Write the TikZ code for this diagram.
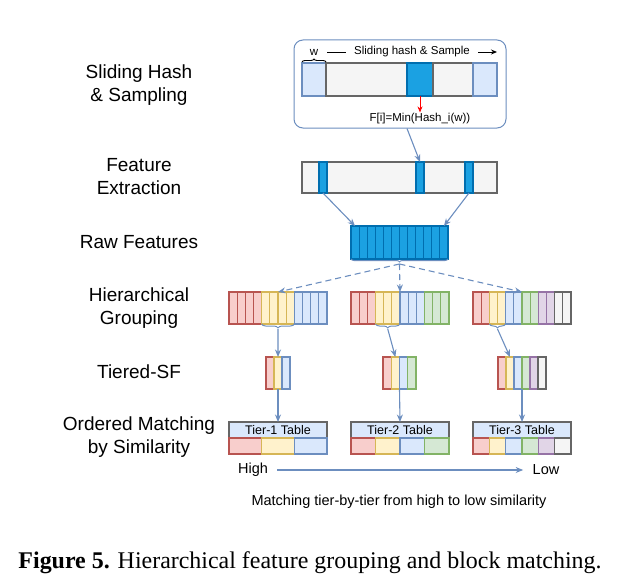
\documentclass[tikz,border=0pt]{standalone}
\usepackage{fontspec}
\setsansfont{Liberation Sans}
\newfontfamily\capfont{Liberation Serif}
\usepackage{xcolor}
\usepackage{graphicx}
\usepackage{tikz}
\usetikzlibrary{arrows.meta,calc,decorations.pathreplacing}

\definecolor{redF}{HTML}{F8CECC}
\definecolor{redL}{HTML}{B85450}
\definecolor{yelF}{HTML}{FFF2CC}
\definecolor{yelL}{HTML}{D6B656}
\definecolor{bluF}{HTML}{DAE8FC}
\definecolor{bluL}{HTML}{6C8EBF}
\definecolor{grnF}{HTML}{D5E8D4}
\definecolor{grnL}{HTML}{82B366}
\definecolor{purF}{HTML}{E1D5E7}
\definecolor{purL}{HTML}{9673A6}
\definecolor{gryF}{HTML}{F5F5F5}
\definecolor{gryL}{HTML}{666666}
\definecolor{dkbF}{HTML}{1BA1E2}
\definecolor{dkbL}{HTML}{006EAF}

\tikzset{
  cell/.style={draw, line width=1.1pt, inner sep=0pt, outer sep=0pt, minimum height=32pt},
  steplabel/.style={font=\sffamily\fontsize{19}{23}\selectfont, align=center},
  small/.style={font=\sffamily\fontsize{11.5}{13}\selectfont, inner sep=1pt},
  arr/.style={-{Stealth[length=7.5pt,width=6pt]}, bluL, line width=1.1pt},
  dasharr/.style={arr, dash pattern=on 6pt off 4pt},
  bracedown/.style={decorate, decoration={brace, mirror, amplitude=4pt}, bluL, line width=1pt},
}

\begin{document}
\begin{tikzpicture}[x=1pt,y=-1pt]
    \useasboundingbox (0,0) rectangle (626,586);

    % step labels
    \node[steplabel] (lhash) at (139,85) {Sliding Hash\\\& Sampling};
    \node[steplabel] (lfeat) at (139,177) {Feature\\Extraction};
    \node[steplabel] (lraw) at (139,242) {Raw Features};
    \node[steplabel] (lgroup) at (139,308) {Hierarchical\\Grouping};
    \node[steplabel] (lsf) at (139,372) {Tiered-SF};
    \node[steplabel] (lmatch) at (139,437) {Ordered Matching\\by Similarity};

    % sliding hash
    \node[draw=bluL, line width=1pt, rounded corners=9pt, minimum width=212pt, minimum height=88pt] (hashbox) at (400,84) {};
    \foreach \x/\w/\c [count=\i] in {302/24/blu,326/81/gry,407/26/dkb,433/40/gry,473/24/blu}
        \node[cell, anchor=west, minimum width=\w pt, minimum height=33pt, fill=\c F, draw=\c L] (s\i) at (\x,79.5) {};
    \draw[decorate, decoration={brace, amplitude=3pt, raise=1pt}, line width=0.9pt] (s1.north west) -- (s1.north east);
    \node[small] (w) at (314,52) {w};
    \coordinate (slide0) at (327,52);
    \coordinate (slide1) at (497,52);
    \draw[-{Stealth[length=6pt,width=5pt]}, line width=0.9pt] (slide0) -- (slide1)
        node[small, midway, fill=white, inner xsep=8pt] {Sliding hash \& Sample};
    \node[small] (fmin) at (420,119) {F[i]=Min(Hash\_i(w))};
    \draw[-{Stealth[length=6pt,width=5pt]}, red, line width=1pt] (s3.south) -- (fmin.north);

    % feature extraction
    \node[cell, fill=gryF, draw=gryL, minimum width=195pt, minimum height=31pt] (feat) at (399.5,177.5) {};
    \foreach \x [count=\i] in {323,420,469}
        \node[cell, fill=dkbF, draw=dkbL, minimum width=8pt, minimum height=31pt] (f\i) at (\x,177.5) {};
    \draw[arr] ([xshift=7pt]hashbox.south) -- (f2.north);

    % raw features
    \foreach \i in {1,...,12}
        \node[cell, fill=dkbF, draw=dkbL, minimum width=8.08pt, minimum height=33pt] (raw\i) at ({351+8.08*(\i-0.5)},242.5) {};
    \draw[arr] (f1.south) -- (raw1.north);
    \draw[arr] (f3.south) -- (raw12.north);
    \draw[bracedown, decoration={amplitude=3pt}] (raw1.south west) -- (raw12.south east);
    \coordinate (rawtip) at ($(raw6.south east)+(0,5)$);

    % hierarchical grouping
    \foreach \c [count=\i] in {red,red,red,red,yel,yel,yel,yel,blu,blu,blu,blu}
        \node[cell, fill=\c F, draw=\c L, minimum width=8.17pt] (ga\i) at ({229+8.17*(\i-0.5)},308) {};
    \foreach \c [count=\i] in {red,red,red,yel,yel,yel,blu,blu,blu,grn,grn,grn}
        \node[cell, fill=\c F, draw=\c L, minimum width=8.17pt] (gb\i) at ({351+8.17*(\i-0.5)},308) {};
    \foreach \c [count=\i] in {red,red,yel,yel,blu,blu,grn,grn,pur,pur,gry,gry}
        \node[cell, fill=\c F, draw=\c L, minimum width=8.17pt] (gc\i) at ({473+8.17*(\i-0.5)},308) {};
    \draw[dasharr] (rawtip) -- (ga6.north east);
    \draw[dasharr] (rawtip) -- (gb6.north east);
    \draw[dasharr] (rawtip) -- (gc6.north east);

    \draw[bracedown] (ga5.south west) -- (ga8.south east);
    \draw[bracedown] (gb4.south west) -- (gb6.south east);
    \draw[bracedown] (gc3.south west) -- (gc4.south east);
    \coordinate (ba) at ($(ga6.south east)+(0,5)$);
    \coordinate (bb) at ($(gb5.south)+(0,5)$);
    \coordinate (bc) at ($(gc3.south east)+(0,5)$);

    % tiered SF
    \foreach \c [count=\i] in {red,yel,blu}
        \node[cell, fill=\c F, draw=\c L, minimum width=8pt] (sa\i) at ({266+8*(\i-0.5)},373) {};
    \foreach \c [count=\i] in {red,yel,blu,grn}
        \node[cell, fill=\c F, draw=\c L, minimum width=8.25pt] (sb\i) at ({383+8.25*(\i-0.5)},373) {};
    \foreach \c [count=\i] in {red,yel,blu,grn,pur,gry}
        \node[cell, fill=\c F, draw=\c L, minimum width=8pt] (sc\i) at ({498+8*(\i-0.5)},373) {};
    \draw[arr] (ba) -- (sa2.north);
    \draw[arr] (bb) -- (sb2.north);
    \draw[arr] (bc) -- (sc2.north);

    % tier tables
    \foreach \n/\x/\t in {a/278/1,b/400/2,c/522/3}
        \node[cell, fill=bluF, draw=gryL, minimum width=98pt, minimum height=16pt,
              font=\sffamily\fontsize{12.5}{14}\selectfont] (tab\n) at (\x,430) {Tier-\t{} Table};
    \foreach \c [count=\i] in {red,yel,blu}
        \node[cell, fill=\c F, draw=\c L, minimum width=32.67pt, minimum height=16pt] (ra\i) at ({229+32.67*(\i-0.5)},446) {};
    \foreach \c [count=\i] in {red,yel,blu,grn}
        \node[cell, fill=\c F, draw=\c L, minimum width=24.5pt, minimum height=16pt] (rb\i) at ({351+24.5*(\i-0.5)},446) {};
    \foreach \c [count=\i] in {red,yel,blu,grn,pur,gry}
        \node[cell, fill=\c F, draw=\c L, minimum width=16.33pt, minimum height=16pt] (rc\i) at ({473+16.33*(\i-0.5)},446) {};
    \draw[arr] (sa2.south) -- (taba.north);
    \draw[arr] (sb2.south east) -- (tabb.north);
    \draw[arr] (sc3.south east) -- (tabc.north);

    % high to low
    \node[font=\sffamily\fontsize{14.5}{16}\selectfont] (high) at (253,470) {High};
    \node[font=\sffamily\fontsize{14.5}{16}\selectfont] (low) at (546,470) {Low};
    \draw[arr, shorten <=6pt, shorten >=6pt] (high) -- (low);
    \node[font=\sffamily\fontsize{14.5}{16}\selectfont] (note) at (399,502) {Matching tier-by-tier from high to low similarity};

    % caption
    \node (caption) at (310,563) {\resizebox{583pt}{!}{\capfont\fontsize{20}{24}\selectfont\textbf{Figure 5.} Hierarchical feature grouping and block matching.}};
\end{tikzpicture}
\end{document}
